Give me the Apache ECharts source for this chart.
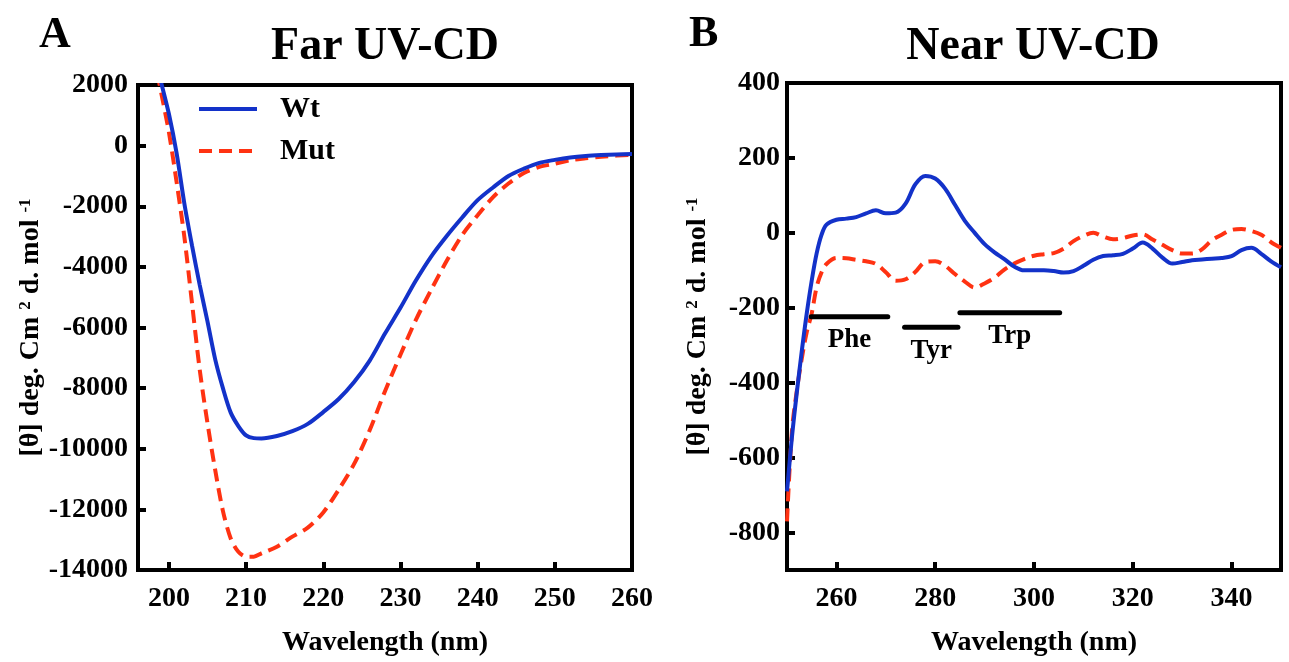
<!DOCTYPE html>
<html>
<head>
<meta charset="utf-8">
<script src="https://cdn.jsdelivr.net/npm/echarts@6/dist/echarts.min.js"></script>
<style>
html,body{margin:0;padding:0;background:#fff;}
#chart{width:1289px;height:662px;}
</style>
</head>
<body>
<div id="chart"></div>
<script>
// ---------- Far UV-CD (panel A) ----------
const farWavelength = [198.5, 199, 200, 201, 202, 203, 204, 205, 206, 207, 208, 209, 210, 211, 212,
  214, 216, 218, 220, 222, 224, 226, 228, 230, 232, 234, 236, 238, 240, 242, 244, 246, 248, 250,
  252, 254, 256, 258, 260];
const farWt = [2600, 2080, 1050, -250, -1900, -3300, -4600, -5800, -7050, -8000, -8800, -9250, -9560, -9650, -9660,
  -9580, -9420, -9180, -8790, -8360, -7800, -7100, -6200, -5350, -4450, -3650, -2980, -2370, -1800, -1380,
  -1000, -760, -570, -470, -390, -340, -310, -290, -280];
const farMut = [2400, 1750, 450, -1200, -3000, -5200, -7400, -9150, -10700, -12050, -12950, -13400, -13560, -13560, -13450,
  -13230, -12900, -12600, -12100, -11350, -10500, -9400, -8100, -6900, -5750, -4750, -3800, -2950, -2300, -1700,
  -1250, -900, -700, -600, -480, -420, -370, -330, -300];
const farXTicks = [200, 210, 220, 230, 240, 250, 260];

// ---------- Near UV-CD (panel B) ----------
const nearWavelength = [250, 251, 252, 253, 254, 255, 256, 257, 258,
  260, 262, 264, 266, 268, 270, 272, 274, 276, 278, 280, 282, 284, 286, 288, 290, 292, 294, 296, 298, 300,
  302, 304, 306, 308, 310, 312, 314, 316, 318, 320, 322, 324, 326, 328, 330, 332, 334, 336, 338, 340,
  342, 344, 346, 348, 350];
const nearWt = [-690, -545, -425, -315, -215, -128, -55, -5, 22,
  35, 38, 42, 52, 60, 52, 54, 78, 130, 152, 145, 118, 75, 32, 0, -30, -52, -70, -90, -100, -100,
  -100, -102, -106, -102, -88, -72, -62, -60, -56, -42, -26, -42, -66, -82, -78, -73, -71, -69, -67, -62,
  -46, -40, -56, -76, -92];
const nearMut = [-770, -530, -420, -335, -265, -215, -145, -105, -83,
  -67, -68, -72, -76, -83, -105, -128, -124, -104, -78, -76, -88, -110, -130, -146, -135, -120, -98, -82, -70, -61,
  -57, -54, -42, -22, -8, 0, -10, -17, -14, -7, -4, -18, -32, -46, -55, -55, -44, -20, -5, 8,
  10, 5, -5, -25, -40];
const nearXTicks = [260, 280, 300, 320, 340];
const nearYTicks = [-800, -600, -400, -200, 0, 200, 400];

// aromatic region bars
const regionNames = ['Phe', 'Tyr', 'Trp'];
const regionStart = [254.9, 273.8, 285.0];
const regionEnd = [270.4, 284.6, 305.2];
const regionLevel = [-224, -252, -213];

const seriesNames = ['Wt', 'Mut'];

// ---------- styling ----------
const FONT = "'Liberation Serif', 'Times New Roman', serif";
const BLUE = '#1332c9';
const RED = '#ff3212';

function zip(xs, ys) { return xs.map((x, i) => [x, ys[i]]); }
const plain = v => String(v);

const yNameRich = {
  sup: { fontSize: 17, fontWeight: 'bold', fontFamily: FONT, color: '#000', verticalAlign: 'top' }
};
const yName = '[θ] deg. Cm {sup|2} d. mol {sup|-1}';

function axisCommon() {
  return {
    axisLine: { show: true, onZero: false, lineStyle: { color: '#000', width: 4 } },
    axisTick: { show: true, inside: true, length: 8, lineStyle: { color: '#000', width: 4 } },
    splitLine: { show: false },
    axisLabel: { color: '#000', fontSize: 28, fontWeight: 'bold', fontFamily: FONT, formatter: plain }
  };
}

const xA = Object.assign(axisCommon(), {
  type: 'value', gridIndex: 0, min: 196, max: 260,
  name: 'Wavelength (nm)', nameLocation: 'middle', nameGap: 59,
  nameTextStyle: { fontSize: 28, fontWeight: 'bold', fontFamily: FONT, color: '#000' }
});
xA.axisTick.customValues = farXTicks;
xA.axisLabel.customValues = farXTicks;
xA.axisLabel.margin = 15;

const yA = Object.assign(axisCommon(), {
  type: 'value', gridIndex: 0, min: -14000, max: 2000, interval: 2000,
  name: yName, nameLocation: 'middle', nameGap: 75,
  nameTextStyle: { fontSize: 28, fontWeight: 'bold', fontFamily: FONT, color: '#000', rich: yNameRich }
});
yA.axisLabel.margin = 10;

const xB = Object.assign(axisCommon(), {
  type: 'value', gridIndex: 1, min: 250, max: 350,
  name: 'Wavelength (nm)', nameLocation: 'middle', nameGap: 59,
  nameTextStyle: { fontSize: 28, fontWeight: 'bold', fontFamily: FONT, color: '#000' }
});
xB.axisTick.customValues = nearXTicks;
xB.axisLabel.customValues = nearXTicks;
xB.axisLabel.margin = 15;

const yB = Object.assign(axisCommon(), {
  type: 'value', gridIndex: 1, min: -900, max: 400,
  name: yName, nameLocation: 'middle', nameGap: 75,
  nameTextStyle: { fontSize: 28, fontWeight: 'bold', fontFamily: FONT, color: '#000', rich: yNameRich }
});
yB.axisTick.customValues = nearYTicks;
yB.axisLabel.customValues = nearYTicks;
yB.axisLabel.margin = 7;

const series = [
  { name: seriesNames[0], type: 'line', xAxisIndex: 0, yAxisIndex: 0, data: zip(farWavelength, farWt),
    smooth: 0.3, symbol: 'none', clip: true, lineStyle: { color: BLUE, width: 4 }, itemStyle: { color: BLUE }, z: 3 },
  { name: seriesNames[1], type: 'line', xAxisIndex: 0, yAxisIndex: 0, data: zip(farWavelength, farMut),
    smooth: 0.3, symbol: 'none', clip: true, lineStyle: { color: RED, width: 4, type: [13, 7] }, itemStyle: { color: RED }, z: 2 },
  { name: seriesNames[0], type: 'line', xAxisIndex: 1, yAxisIndex: 1, data: zip(nearWavelength, nearWt),
    smooth: 0.35, symbol: 'none', clip: true, lineStyle: { color: BLUE, width: 4 }, itemStyle: { color: BLUE }, z: 3 },
  { name: seriesNames[1], type: 'line', xAxisIndex: 1, yAxisIndex: 1, data: zip(nearWavelength, nearMut),
    smooth: 0.35, symbol: 'none', clip: true, lineStyle: { color: RED, width: 4, type: [13, 7] }, itemStyle: { color: RED }, z: 2 }
];

regionNames.forEach((nm, i) => {
  series.push({
    name: nm + ' range', type: 'line', xAxisIndex: 1, yAxisIndex: 1,
    data: [[regionStart[i], regionLevel[i]], [regionEnd[i], regionLevel[i]]],
    symbol: 'none', lineStyle: { color: '#000', width: 5, cap: 'round' }, silent: true, z: 4
  });
});
series.push({
  name: 'region labels', type: 'scatter', xAxisIndex: 1, yAxisIndex: 1,
  data: regionNames.map((nm, i) => ({ value: [(regionStart[i] + regionEnd[i]) / 2, regionLevel[i]], name: nm })),
  symbolSize: 0, itemStyle: { color: '#000', opacity: 1 }, silent: true, z: 5,
  label: { show: true, position: 'bottom', distance: 10, formatter: p => p.name, opacity: 1,
    color: '#000', fontSize: 27, fontWeight: 'bold', fontFamily: FONT }
});

const option = {
  animation: false,
  backgroundColor: '#fff',
  grid: [
    { left: 138, top: 85, width: 494, height: 492, show: true, borderColor: '#000', borderWidth: 4, backgroundColor: 'transparent' },
    { left: 787, top: 83, width: 494, height: 494, show: true, borderColor: '#000', borderWidth: 4, backgroundColor: 'transparent' }
  ],
  xAxis: [xA, xB],
  yAxis: [yA, yB],
  legend: {
    data: seriesNames, orient: 'vertical', left: 192, top: 89, itemWidth: 58, itemHeight: 14, itemGap: 12,
    itemStyle: { opacity: 0, borderWidth: 0 },
    lineStyle: { width: 4 },
    textStyle: { fontSize: 30, fontWeight: 'bold', fontFamily: FONT, color: '#000', lineHeight: 30, padding: [0, 0, 0, 18] }
  },
  graphic: [
    { type: 'text', left: 39, top: 14, style: { text: 'A', fontSize: 44, fontWeight: 'bold', fontFamily: FONT, fill: '#000' } },
    { type: 'text', left: 689, top: 13, style: { text: 'B', fontSize: 44, fontWeight: 'bold', fontFamily: FONT, fill: '#000' } },
    { type: 'text', x: 385, y: 47, style: { text: 'Far UV-CD', fontSize: 46, fontWeight: 'bold', fontFamily: FONT, fill: '#000', align: 'center', verticalAlign: 'middle' } },
    { type: 'text', x: 1033, y: 47, style: { text: 'Near UV-CD', fontSize: 46, fontWeight: 'bold', fontFamily: FONT, fill: '#000', align: 'center', verticalAlign: 'middle' } }
  ],
  series: series
};

const chart = echarts.init(document.getElementById('chart'), null, { renderer: 'canvas' });
chart.setOption(option);
</script>
</body>
</html>
